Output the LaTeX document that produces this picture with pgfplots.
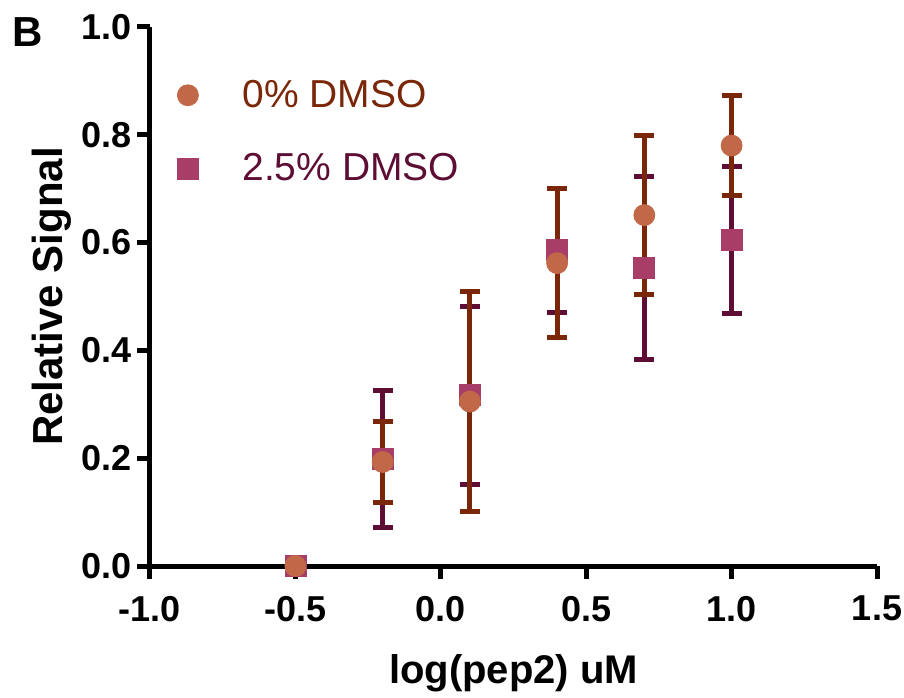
\documentclass[border=0pt]{standalone}
\usepackage{pgfplots}
\pgfplotsset{compat=1.18}
\usepackage{fontspec}
\setmainfont{Liberation Sans}

\definecolor{dotfill}{HTML}{C16848}
\definecolor{dotbar}{HTML}{7A2608}
\definecolor{sqfill}{HTML}{A83E68}
\definecolor{sqbar}{HTML}{5E0E34}

% x, y, error
\pgfplotstableread{
x y e
-0.5 0.000 0.000
-0.2 0.193 0.076
0.1 0.305 0.204
0.4 0.562 0.138
0.7 0.651 0.148
1.0 0.780 0.092
}\dmsozero
\pgfplotstableread{
x y e
-0.5 0.000 0.000
-0.2 0.199 0.127
0.1 0.317 0.165
0.4 0.586 0.115
0.7 0.553 0.169
1.0 0.605 0.137
}\dmsotwo

\begin{document}
\begin{tikzpicture}
\path[use as bounding box] (-75pt,-65.5pt) rectangle (377pt,283pt);
\begin{axis}[
    at={(0pt,0pt)}, anchor=south west,
    scale only axis,
    width=363.5pt, height=269.5pt,
    xmin=-1, xmax=1.5, ymin=0, ymax=1,
    clip=false,
    axis lines*=left,
    axis line style={line width=2.5pt, black},
    tick style={line width=2.5pt, black},
    tick align=outside,
    major tick length=6.5pt,
    xtick={-1,-0.5,0,0.5,1,1.5},
    xticklabels={-1.0,-0.5,0.0,0.5,1.0,1.5},
    ytick={0,0.2,0.4,0.6,0.8,1},
    yticklabels={0.0,0.2,0.4,0.6,0.8,1.0},
    ticklabel style={font=\fontsize{18}{21}\selectfont\bfseries},
    xticklabel style={yshift=-5pt},
    yticklabel style={xshift=1pt},
    xlabel={log(pep2) uM},
    ylabel={Relative Signal},
    xlabel style={font=\fontsize{20}{24}\selectfont\bfseries,
        at={(axis description cs:0.5,-0.2189)}, anchor=base},
    ylabel style={font=\fontsize{21}{25}\selectfont\bfseries,
        at={(axis description cs:-0.1197,0.5)}, anchor=base},
    legend style={at={(axis description cs:0.0,0.93)}, anchor=north west,
        xshift=10.5pt, yshift=-3.5pt,
        draw=none, fill=none, font=\fontsize{19.5}{23}\selectfont,
        row sep=17.5pt,
        /tikz/every odd column/.style={column sep=20pt}},
    legend cell align=left,
    legend image code/.code={\draw[#1] plot coordinates {(0pt,0pt)};},
]
\addlegendimage{only marks, mark=*, mark size=5.25pt, dotfill, mark options={draw=dotfill, fill=dotfill}}
\addlegendentry{\textcolor{dotbar}{0\% DMSO}}
\addlegendimage{only marks, mark=square*, mark size=5.25pt, sqfill, mark options={draw=sqfill, fill=sqfill}}
\addlegendentry{\textcolor{sqbar}{2.5\% DMSO}}

\addplot[only marks, mark=square*, mark size=5.25pt,
    mark options={draw=sqfill, fill=sqfill},
    error bars/.cd, y dir=both, y explicit,
    error bar style={line width=2.5pt, sqbar},
    error mark options={rotate=90, mark size=5pt, line width=2.5pt, sqbar}]
    table[x=x, y=y, y error=e] {\dmsotwo};
\addplot[only marks, mark=*, mark size=5.25pt,
    mark options={draw=dotfill, fill=dotfill},
    error bars/.cd, y dir=both, y explicit,
    error bar style={line width=2.5pt, dotbar},
    error mark options={rotate=90, mark size=5pt, line width=2.5pt, dotbar}]
    table[x=x, y=y, y error=e] {\dmsozero};
\end{axis}
\node[anchor=base west, inner sep=0pt, font=\fontsize{21}{25}\selectfont\bfseries]
    at (-69pt,259.6pt) {B};
\end{tikzpicture}
\end{document}
